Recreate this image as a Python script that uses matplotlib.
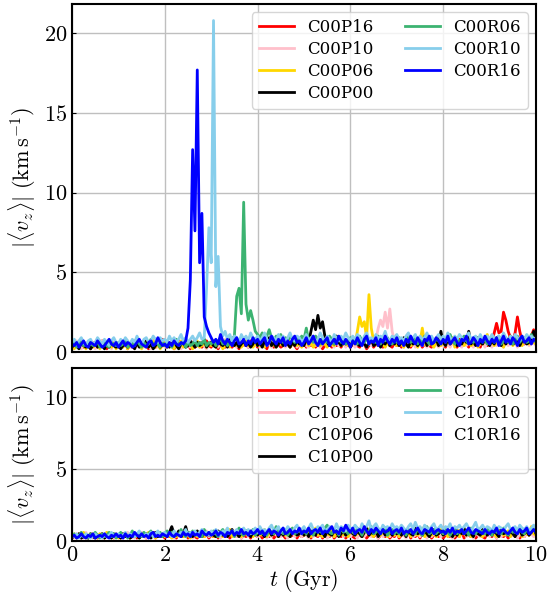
import matplotlib.pyplot as plt
import numpy as np

plt.rcParams['font.family'] = 'serif'
plt.rcParams['font.serif'] = ['cmr10']
plt.rcParams['mathtext.fontset'] = 'cm'
plt.rcParams['axes.formatter.use_mathtext'] = True

# time grid (Gyr), 0.05 step
t = np.linspace(0, 10, 201)

# ---- top panel: C00 models ----
c00p16 = [0.5, 0.3, 0.6, 0.4, 0.8, 0.3, 0.5, 0.4, 0.2, 0.6, 0.4, 0.3, 0.5, 0.7, 0.4, 0.2, 0.5, 0.3, 0.6, 0.4,
          0.3, 0.5, 0.4, 0.6, 0.2, 0.5, 0.3, 0.7, 0.4, 0.5, 0.3, 0.6, 0.4, 0.2, 0.5, 0.7, 0.3, 0.4, 0.6, 0.8,
          0.4, 0.3, 0.6, 0.5, 0.2, 0.4, 0.7, 0.3, 0.5, 0.4, 0.6, 0.2, 0.5, 0.3, 0.4, 0.6, 0.3, 0.5, 0.7, 0.4,
          0.3, 0.6, 0.4, 0.2, 0.5, 0.7, 0.3, 0.4, 0.6, 0.3, 0.5, 0.4, 0.2, 0.6, 0.4, 0.5, 0.3, 0.7, 0.4, 0.5,
          0.3, 0.6, 0.4, 0.5, 0.2, 0.7, 0.4, 0.3, 0.6, 0.5, 0.3, 0.4, 0.7, 0.5, 0.3, 0.6, 0.4, 0.2, 0.5, 0.4,
          0.6, 0.3, 0.5, 0.4, 0.7, 0.3, 0.5, 0.6, 0.2, 0.4, 0.6, 0.5, 0.3, 0.7, 0.4, 0.5, 0.3, 0.6, 0.4, 0.5,
          0.3, 0.5, 0.7, 0.4, 0.3, 0.6, 0.5, 0.2, 0.4, 0.7, 0.3, 0.5, 0.4, 0.6, 0.3, 0.5, 0.7, 0.4, 0.3, 0.6,
          0.4, 0.6, 0.3, 0.5, 0.8, 0.4, 0.3, 0.6, 0.5, 0.4, 0.7, 0.3, 0.5, 0.6, 0.4, 0.3, 0.7, 0.5, 0.4, 0.6,
          0.5, 0.3, 0.7, 0.4, 0.6, 0.5, 0.3, 0.8, 0.4, 0.6, 0.5, 0.3, 0.7, 0.4, 0.5, 0.6, 0.3, 0.8, 0.5, 0.4,
          0.6, 0.7, 1.2, 1.8, 1.2, 1.3, 2.5, 2.0, 1.3, 0.9, 0.7, 1.2, 2.2, 1.3, 0.7, 0.5, 0.8, 0.6, 1.0, 1.4,
          1.0]
c00p10 = [0.3, 0.5, 0.7, 0.4, 0.2, 0.5, 0.6, 0.3, 0.4, 0.6, 0.2, 0.5, 0.4, 0.7, 0.3, 0.5, 0.4, 0.2, 0.6, 0.4,
          0.5, 0.3, 0.6, 0.4, 0.7, 0.3, 0.5, 0.2, 0.4, 0.6, 0.5, 0.3, 0.7, 0.4, 0.2, 0.5, 0.6, 0.3, 0.4, 0.6,
          0.3, 0.5, 0.4, 0.7, 0.3, 0.5, 0.6, 0.2, 0.4, 0.6, 0.5, 0.3, 0.7, 0.4, 0.5, 0.3, 0.6, 0.4, 0.2, 0.5,
          0.7, 0.4, 0.5, 0.3, 0.6, 0.4, 0.8, 0.3, 0.5, 0.6, 0.4, 0.3, 0.7, 0.5, 0.4, 0.6, 0.3, 0.5, 0.7, 0.4,
          0.5, 0.3, 0.6, 0.8, 0.4, 0.5, 0.3, 0.7, 0.4, 0.6, 0.5, 0.8, 0.3, 0.5, 0.4, 0.6, 0.7, 0.3, 0.5, 0.4,
          0.6, 0.4, 0.3, 0.7, 0.5, 0.4, 0.6, 0.3, 0.5, 0.8, 0.4, 0.6, 0.5, 0.3, 0.7, 0.4, 0.5, 0.6, 0.3, 0.5,
          0.4, 0.6, 0.3, 0.5, 0.7, 0.4, 0.5, 0.3, 0.6, 0.4, 0.5, 0.8, 1.5, 2.0, 1.6, 2.5, 1.5, 2.7, 1.3, 0.7,
          0.5, 0.4, 0.6, 0.3, 0.7, 0.5, 0.4, 0.6, 0.3, 0.5, 0.8, 0.4, 0.6, 0.3, 0.5, 0.7, 0.4, 0.6, 0.3, 0.5,
          0.4, 0.7, 0.5, 0.3, 0.6, 0.4, 0.8, 0.5, 0.3, 0.6, 0.4, 0.7, 0.5, 0.3, 0.6, 0.4, 0.5, 0.7, 0.3, 0.6,
          0.5, 0.3, 0.7, 0.4, 0.6, 0.5, 0.3, 0.8, 0.4, 0.6, 0.5, 0.7, 0.3, 0.5, 0.4, 0.6, 0.8, 0.4, 0.5, 0.6,
          0.4]
c00p06 = [0.4, 0.2, 0.5, 0.3, 0.6, 0.4, 0.2, 0.5, 0.7, 0.3, 0.4, 0.6, 0.2, 0.5, 0.3, 0.4, 0.6, 0.3, 0.5, 0.2,
          0.4, 0.6, 0.3, 0.5, 0.2, 0.4, 0.7, 0.3, 0.5, 0.4, 0.2, 0.6, 0.3, 0.5, 0.4, 0.7, 0.3, 0.5, 0.2, 0.4,
          0.6, 0.3, 0.5, 0.4, 0.2, 0.6, 0.4, 0.7, 0.3, 0.5, 0.4, 0.6, 0.2, 0.5, 0.7, 0.3, 0.4, 0.6, 0.3, 0.5,
          0.4, 0.7, 0.3, 0.5, 0.6, 0.2, 0.4, 0.6, 0.3, 0.8, 0.5, 0.4, 0.6, 0.3, 0.5, 0.7, 0.4, 0.6, 0.3, 0.5,
          0.7, 0.4, 0.5, 0.3, 0.6, 0.8, 0.4, 0.5, 0.3, 0.7, 0.5, 0.4, 0.6, 0.9, 0.3, 0.5, 0.7, 0.4, 0.6, 0.3,
          0.5, 0.7, 0.4, 0.6, 0.3, 0.5, 0.8, 0.4, 0.6, 0.5, 0.3, 0.7, 0.5, 0.4, 0.6, 0.9, 0.4, 0.5, 0.7, 0.4,
          0.6, 0.8, 0.5, 1.3, 2.2, 1.6, 1.9, 0.9, 3.6, 1.5, 0.7, 0.5, 0.4, 0.7, 0.5, 0.3, 0.6, 0.4, 0.8, 0.5,
          0.4, 0.7, 0.5, 0.3, 0.6, 0.8, 0.4, 0.5, 0.7, 0.3, 0.6, 1.5, 0.5, 0.4, 0.7, 0.5, 0.3, 0.6, 0.8, 0.4,
          0.6, 0.4, 0.7, 0.5, 0.9, 0.3, 0.6, 0.5, 0.8, 0.4, 0.6, 0.7, 0.4, 0.5, 0.8, 0.3, 0.6, 0.5, 0.7, 1.1,
          0.5, 0.7, 0.4, 0.6, 0.8, 0.5, 0.3, 0.7, 0.6, 0.9, 0.4, 0.6, 0.5, 0.8, 0.4, 0.7, 0.6, 0.5, 0.9, 0.6,
          0.5]
c00p00 = [0.3, 0.5, 0.4, 0.2, 0.6, 0.4, 0.3, 0.5, 0.2, 0.4, 0.6, 0.3, 0.5, 0.4, 0.2, 0.5, 0.3, 0.6, 0.4, 0.3,
          0.5, 0.2, 0.4, 0.6, 0.3, 0.5, 0.4, 0.2, 0.6, 0.3, 0.5, 0.4, 0.7, 0.3, 0.5, 0.2, 0.4, 0.6, 0.3, 0.5,
          0.4, 0.6, 0.3, 0.5, 0.7, 0.4, 0.2, 0.5, 0.6, 0.3, 0.4, 0.7, 0.5, 0.3, 0.6, 0.4, 0.5, 0.8, 0.3, 0.5,
          0.6, 0.4, 0.3, 0.7, 0.5, 0.4, 0.6, 0.3, 0.8, 0.5, 0.4, 0.6, 0.3, 0.5, 0.7, 0.4, 0.6, 0.3, 0.5, 0.8,
          0.4, 0.6, 0.3, 0.7, 0.5, 0.9, 0.4, 0.6, 0.3, 0.5, 0.7, 0.4, 0.8, 0.5, 0.3, 0.6, 0.4, 0.7, 0.5, 0.6,
          0.4, 0.8, 0.6, 1.3, 2.0, 1.4, 2.3, 1.5, 1.9, 1.0, 0.6, 0.4, 0.7, 0.5, 1.0, 0.6, 0.4, 0.8, 0.5, 0.7,
          0.3, 0.6, 0.8, 0.5, 0.4, 0.7, 0.5, 0.3, 0.6, 0.8, 0.4, 0.5, 0.7, 0.3, 0.6, 0.5, 0.8, 0.4, 0.6, 0.5,
          0.7, 0.4, 0.6, 0.9, 0.5, 0.3, 0.7, 0.5, 0.8, 0.4, 0.6, 0.5, 0.9, 0.4, 0.7, 0.5, 0.6, 0.8, 0.4, 1.3,
          0.6, 0.4, 0.8, 0.5, 0.7, 0.9, 0.4, 0.6, 0.5, 0.8, 0.6, 1.3, 0.5, 0.7, 0.4, 0.9, 0.6, 0.5, 0.8, 0.6,
          0.4, 0.7, 0.5, 0.9, 0.6, 0.4, 0.8, 0.5, 0.7, 1.0, 0.5, 0.6, 0.8, 0.4, 0.7, 0.9, 0.5, 0.6, 0.8, 1.3,
          0.9]
c00r06 = [0.4, 0.6, 0.3, 0.5, 0.7, 0.4, 0.5, 0.3, 0.6, 0.4, 0.5, 0.7, 0.3, 0.5, 0.6, 0.4, 0.3, 0.6, 0.5, 0.4,
          0.6, 0.4, 0.5, 0.7, 0.3, 0.5, 0.6, 0.4, 0.7, 0.5, 0.3, 0.6, 0.4, 0.5, 0.8, 0.4, 0.6, 0.5, 0.3, 0.6,
          0.4, 0.7, 0.5, 0.3, 0.6, 0.8, 0.4, 0.5, 0.7, 0.3, 0.6, 0.4, 0.5, 0.7, 0.4, 0.6, 0.5, 0.8, 0.4, 0.6,
          0.5, 0.7, 0.4, 0.6, 0.9, 0.5, 0.7, 0.4, 0.6, 0.8, 1.0, 3.5, 4.0, 2.4, 9.4, 3.0, 2.0, 2.6, 2.0, 1.3,
          1.1, 0.9, 1.2, 0.8, 1.0, 1.4, 0.9, 0.7, 1.0, 0.8, 1.1, 0.6, 0.9, 0.7, 1.0, 0.8, 0.6, 0.9, 0.7, 1.0,
          0.8, 1.5, 0.7, 0.9, 0.6, 1.0, 0.8, 0.5, 0.9, 0.7, 0.6, 1.0, 0.8, 0.5, 0.7, 0.9, 0.6, 0.8, 0.5, 0.7,
          0.9, 0.6, 0.8, 0.5, 1.0, 0.7, 0.6, 0.9, 0.5, 0.8, 0.7, 0.6, 1.0, 0.5, 0.8, 0.7, 0.9, 0.6, 0.5, 0.8,
          0.6, 0.9, 0.7, 0.5, 0.8, 1.0, 0.6, 0.7, 0.9, 0.5, 0.8, 0.6, 1.0, 0.7, 0.5, 0.9, 0.6, 0.8, 0.7, 0.5,
          0.9, 0.6, 0.8, 1.1, 0.7, 0.5, 0.9, 0.6, 0.8, 1.0, 0.7, 0.5, 0.8, 0.6, 0.9, 0.7, 1.0, 0.6, 0.8, 0.5,
          0.7, 0.9, 0.6, 0.8, 1.0, 0.5, 0.7, 0.9, 0.6, 0.8, 0.5, 0.7, 1.0, 0.6, 0.8, 0.9, 0.6, 0.7, 1.1, 0.8,
          0.6]
c00r10 = [0.6, 0.8, 0.5, 0.7, 0.9, 0.6, 0.4, 0.7, 0.8, 0.5, 0.6, 0.9, 0.7, 0.5, 0.8, 0.6, 0.4, 0.7, 0.9, 0.6,
          0.5, 0.8, 0.6, 0.9, 0.7, 0.5, 0.8, 0.6, 1.0, 0.7, 0.5, 0.8, 0.9, 0.6, 0.7, 1.0, 0.8, 0.6, 0.9, 0.7,
          0.8, 0.6, 1.0, 0.7, 0.9, 0.6, 0.8, 1.1, 0.7, 0.9, 0.6, 0.8, 1.0, 0.7, 0.9, 1.2, 0.8, 0.9, 4.0, 7.8,
          5.6, 20.8, 4.1, 6.0, 1.6, 1.0, 1.3, 0.8, 1.1, 0.7, 1.0, 0.9, 0.6, 1.1, 0.8, 1.0, 0.7, 1.2, 0.9, 0.8,
          1.0, 0.7, 0.9, 1.2, 0.8, 0.6, 1.0, 0.9, 0.7, 1.1, 0.8, 1.0, 0.6, 0.9, 1.2, 0.8, 0.7, 1.0, 0.9, 0.6,
          0.8, 1.1, 0.7, 0.9, 1.0, 0.6, 0.8, 1.2, 0.9, 0.7, 1.0, 0.8, 0.6, 1.1, 0.9, 0.7, 1.0, 0.8, 1.2, 0.9,
          0.7, 1.0, 0.8, 1.1, 0.9, 0.6, 1.0, 1.2, 0.8, 0.9, 0.7, 1.1, 0.8, 1.0, 0.9, 1.3, 0.8, 0.7, 1.0, 0.9,
          1.1, 0.8, 0.9, 0.7, 1.0, 1.2, 0.8, 0.9, 1.1, 0.7, 1.0, 0.8, 0.9, 1.2, 0.8, 1.0, 0.7, 0.9, 1.1, 0.8,
          1.0, 0.8, 1.2, 0.9, 0.7, 1.0, 0.8, 1.1, 0.9, 0.7, 1.0, 1.2, 0.8, 0.9, 1.0, 0.7, 1.1, 0.8, 0.9, 1.0,
          0.8, 1.1, 0.9, 0.7, 1.0, 0.8, 1.2, 0.9, 0.7, 1.0, 0.8, 1.1, 0.9, 0.7, 1.0, 0.8, 1.1, 0.9, 1.0, 0.8,
          0.9]
c00r16 = [0.5, 0.4, 0.6, 0.3, 0.5, 0.7, 0.4, 0.3, 0.6, 0.5, 0.4, 0.7, 0.5, 0.3, 0.4, 0.6, 0.8, 0.5, 0.4, 0.6,
          0.3, 0.5, 0.7, 0.4, 0.6, 0.5, 0.3, 0.4, 0.6, 0.8, 0.5, 0.4, 0.3, 0.6, 0.7, 0.4, 0.5, 0.9, 0.6, 0.4,
          0.5, 0.3, 0.6, 0.4, 0.7, 0.5, 0.4, 0.6, 0.5, 0.7, 1.5, 4.5, 12.7, 7.6, 17.7, 5.6, 8.7, 2.2, 1.6, 1.2,
          0.9, 0.6, 0.8, 0.5, 1.1, 0.7, 0.5, 0.8, 0.6, 0.4, 0.7, 0.9, 0.5, 0.6, 0.8, 0.4, 0.7, 0.5, 0.9, 0.6,
          0.8, 0.5, 0.7, 0.9, 0.4, 0.6, 1.0, 0.7, 0.5, 0.8, 0.6, 0.9, 0.4, 0.7, 0.5, 0.8, 1.0, 0.6, 0.7, 0.4,
          0.6, 0.9, 0.5, 0.7, 1.0, 0.6, 0.4, 0.8, 0.5, 0.7, 0.9, 0.4, 0.6, 0.8, 0.5, 1.0, 0.7, 0.5, 0.8, 0.6,
          0.3, 0.7, 0.5, 0.9, 0.6, 0.4, 0.8, 1.0, 0.5, 0.7, 0.6, 0.9, 0.4, 0.8, 0.6, 1.0, 0.7, 0.5, 0.8, 0.6,
          0.9, 0.5, 0.7, 0.4, 0.8, 0.6, 1.0, 0.7, 0.5, 0.9, 0.6, 0.4, 0.8, 0.7, 1.0, 0.5, 0.6, 0.9, 0.7, 0.5,
          0.8, 0.6, 1.0, 0.5, 0.7, 0.9, 0.6, 0.4, 0.8, 0.7, 1.0, 0.5, 0.6, 0.9, 0.7, 0.4, 0.8, 0.6, 1.0, 0.7,
          0.5, 0.8, 0.6, 0.9, 0.4, 0.7, 1.0, 0.6, 0.8, 0.5, 0.9, 0.7, 0.4, 0.8, 1.0, 0.6, 0.7, 0.9, 0.5, 0.8,
          0.7]

# ---- bottom panel: C10 models ----
c10p16 = [0.2, 0.4, 0.3, 0.5, 0.2, 0.4, 0.3, 0.2, 0.5, 0.3, 0.4, 0.2, 0.3, 0.5, 0.2, 0.4, 0.3, 0.5, 0.2, 0.4,
          0.3, 0.2, 0.5, 0.3, 0.4, 0.2, 0.5, 0.3, 0.2, 0.4, 0.3, 0.5, 0.2, 0.4, 0.3, 0.6, 0.2, 0.4, 0.3, 0.5,
          0.2, 0.4, 0.3, 0.6, 0.3, 0.2, 0.5, 0.4, 0.3, 0.6, 0.2, 0.4, 0.5, 0.3, 0.2, 0.6, 0.4, 0.3, 0.5, 0.2,
          0.4, 0.3, 0.6, 0.2, 0.5, 0.4, 0.3, 0.6, 0.2, 0.4, 0.5, 0.3, 0.6, 0.2, 0.4, 0.3, 0.5, 0.2, 0.6, 0.4,
          0.3, 0.5, 0.2, 0.4, 0.6, 0.3, 0.5, 0.2, 0.4, 0.3, 0.6, 0.4, 0.2, 0.5, 0.3, 0.4, 0.7, 0.2, 0.5, 0.3,
          0.4, 0.6, 0.3, 0.2, 0.5, 0.4, 0.3, 0.6, 0.2, 0.5, 0.4, 0.3, 0.7, 0.2, 0.4, 0.5, 0.3, 0.6, 0.2, 0.4,
          0.5, 0.3, 0.2, 0.6, 0.4, 0.3, 0.5, 0.2, 0.4, 0.6, 0.3, 0.5, 0.2, 0.4, 0.7, 0.3, 0.5, 0.2, 0.4, 0.3,
          0.6, 0.2, 0.4, 0.5, 0.3, 0.7, 0.2, 0.4, 0.3, 0.5, 0.2, 0.6, 0.4, 0.3, 0.5, 0.2, 0.4, 0.6, 0.3, 0.5,
          0.2, 0.4, 0.6, 0.3, 0.5, 0.2, 0.4, 0.3, 0.7, 0.2, 0.5, 0.4, 0.3, 0.6, 0.2, 0.4, 0.5, 0.3, 0.2, 0.6,
          0.4, 0.3, 0.5, 0.2, 0.7, 0.4, 0.3, 0.5, 0.2, 0.4, 0.6, 0.3, 0.5, 0.2, 0.4, 0.3, 0.6, 0.4, 0.8, 1.0,
          0.6]
c10p10 = [0.4, 0.2, 0.5, 0.3, 0.4, 0.2, 0.6, 0.3, 0.5, 0.2, 0.4, 0.3, 0.5, 0.2, 0.4, 0.6, 0.3, 0.5, 0.2, 0.4,
          0.3, 0.5, 0.2, 0.4, 0.6, 0.3, 0.4, 0.2, 0.5, 0.3, 0.6, 0.4, 0.2, 0.5, 0.3, 0.4, 0.2, 0.6, 0.3, 0.4,
          0.5, 0.3, 0.4, 0.6, 0.2, 0.5, 0.3, 0.4, 0.7, 0.3, 0.5, 0.4, 0.2, 0.6, 0.4, 0.3, 0.5, 0.4, 0.7, 0.3,
          0.4, 0.6, 0.3, 0.5, 0.2, 0.4, 0.7, 0.3, 0.5, 0.4, 0.6, 0.3, 0.5, 0.2, 0.4, 0.6, 0.3, 0.7, 0.4, 0.5,
          0.3, 0.5, 0.4, 0.6, 0.2, 0.5, 0.3, 0.7, 0.4, 0.5, 0.3, 0.6, 0.4, 0.2, 0.5, 0.7, 0.3, 0.4, 0.6, 0.3,
          0.5, 0.4, 0.2, 0.6, 0.3, 0.5, 0.4, 0.7, 0.3, 0.5, 0.2, 0.4, 0.6, 0.3, 0.5, 0.4, 0.7, 0.3, 0.4, 0.6,
          0.3, 0.5, 0.4, 0.2, 0.6, 0.4, 0.3, 0.5, 0.7, 0.3, 0.4, 0.6, 0.2, 0.5, 0.3, 0.4, 0.6, 0.3, 0.5, 0.4,
          0.6, 0.3, 0.5, 0.4, 0.2, 0.5, 0.7, 0.3, 0.4, 0.6, 0.3, 0.5, 0.4, 0.2, 0.6, 0.3, 0.5, 0.4, 0.7, 0.3,
          0.4, 0.6, 0.3, 0.5, 0.2, 0.4, 0.6, 0.3, 0.5, 0.7, 0.3, 0.4, 0.5, 0.2, 0.6, 0.4, 0.3, 0.5, 0.4, 0.6,
          0.3, 0.5, 0.4, 0.2, 0.6, 0.3, 0.5, 0.4, 0.7, 0.3, 0.4, 0.6, 0.2, 0.5, 0.4, 0.3, 0.6, 0.4, 0.5, 0.3,
          0.4]
c10p06 = [0.3, 0.5, 0.2, 0.4, 0.3, 0.6, 0.2, 0.4, 0.3, 0.5, 0.4, 0.2, 0.5, 0.3, 0.4, 0.6, 0.3, 0.2, 0.4, 0.5,
          0.2, 0.4, 0.3, 0.5, 0.4, 0.2, 0.6, 0.3, 0.4, 0.2, 0.5, 0.3, 0.4, 0.6, 0.3, 0.5, 0.2, 0.4, 0.3, 0.5,
          0.3, 0.6, 0.4, 0.2, 0.5, 0.3, 0.4, 0.7, 0.3, 0.5, 0.4, 0.2, 0.6, 0.4, 0.3, 0.5, 0.7, 0.3, 0.4, 0.6,
          0.5, 0.3, 0.7, 0.4, 0.6, 0.3, 0.5, 0.4, 0.8, 0.3, 0.5, 0.6, 0.4, 0.3, 0.7, 0.5, 0.4, 0.6, 0.3, 0.5,
          0.7, 0.4, 0.5, 0.8, 0.3, 0.6, 0.4, 0.5, 0.7, 0.3, 0.6, 0.8, 0.4, 0.5, 0.3, 0.7, 0.5, 0.4, 0.6, 0.8,
          0.4, 0.5, 0.7, 0.3, 0.6, 0.9, 0.4, 0.5, 0.3, 0.7, 0.5, 0.4, 0.8, 0.3, 0.6, 0.5, 0.7, 0.4, 0.5, 0.3,
          0.6, 0.8, 0.4, 0.5, 0.7, 0.3, 0.6, 1.0, 0.4, 0.5, 0.3, 0.7, 0.5, 0.4, 0.6, 0.8, 0.3, 0.5, 0.7, 0.4,
          0.6, 0.3, 0.5, 0.8, 0.4, 0.6, 0.3, 0.7, 0.5, 0.4, 0.6, 0.9, 0.3, 0.5, 0.7, 0.4, 0.6, 0.3, 0.5, 0.8,
          0.4, 0.6, 0.3, 0.7, 0.5, 0.4, 0.8, 0.3, 0.6, 0.5, 0.4, 0.7, 0.3, 0.6, 0.5, 0.8, 0.4, 0.3, 0.6, 0.5,
          0.7, 0.4, 0.5, 0.3, 0.6, 0.8, 0.4, 0.5, 0.7, 0.3, 0.6, 0.4, 0.5, 0.9, 0.3, 0.6, 0.5, 0.4, 1.0, 0.5,
          0.4]
c10p00 = [0.2, 0.4, 0.3, 0.5, 0.2, 0.3, 0.4, 0.2, 0.5, 0.3, 0.2, 0.4, 0.3, 0.5, 0.2, 0.4, 0.3, 0.2, 0.5, 0.3,
          0.4, 0.2, 0.5, 0.3, 0.4, 0.2, 0.3, 0.5, 0.4, 0.2, 0.4, 0.3, 0.5, 0.3, 0.2, 0.4, 0.6, 0.3, 0.4, 0.3,
          0.5, 0.3, 0.6, 1.0, 0.5, 0.4, 0.7, 0.3, 0.5, 1.0, 0.4, 0.6, 0.3, 0.5, 0.7, 0.4, 0.3, 0.6, 0.5, 0.4,
          0.6, 0.4, 0.3, 0.7, 0.5, 0.4, 0.6, 0.3, 0.5, 0.8, 0.4, 0.5, 0.3, 0.6, 0.4, 0.7, 0.5, 0.3, 0.6, 0.5,
          0.4, 0.7, 0.5, 0.3, 0.6, 0.8, 0.4, 0.5, 0.7, 0.3, 0.6, 0.4, 0.8, 0.5, 0.3, 0.6, 0.7, 0.4, 0.5, 0.8,
          0.4, 0.6, 0.3, 0.7, 0.5, 0.4, 0.9, 0.5, 0.6, 0.3, 0.7, 0.5, 0.4, 0.8, 0.6, 0.3, 0.5, 0.7, 0.4, 0.6,
          0.8, 0.5, 0.4, 0.7, 0.5, 0.3, 0.6, 0.9, 0.4, 0.6, 0.5, 0.7, 0.3, 0.6, 0.8, 0.4, 0.5, 0.7, 0.4, 0.6,
          0.5, 0.8, 0.4, 0.6, 0.3, 0.7, 0.5, 0.4, 0.9, 0.5, 0.6, 0.4, 0.7, 0.5, 0.3, 0.6, 0.8, 0.4, 0.5, 0.7,
          0.4, 0.6, 0.8, 0.5, 0.3, 0.6, 0.4, 0.7, 0.5, 0.9, 0.4, 0.6, 0.5, 0.3, 0.7, 0.5, 0.4, 0.8, 0.6, 0.4,
          0.6, 0.4, 0.7, 0.5, 0.3, 0.8, 0.5, 0.6, 0.4, 0.7, 0.5, 0.3, 0.6, 0.8, 0.4, 0.5, 0.7, 0.4, 0.6, 0.9,
          0.5]
c10r06 = [0.3, 0.5, 0.2, 0.4, 0.6, 0.3, 0.4, 0.2, 0.5, 0.3, 0.6, 0.4, 0.2, 0.5, 0.3, 0.4, 0.6, 0.3, 0.5, 0.2,
          0.4, 0.6, 0.3, 0.5, 0.2, 0.4, 0.7, 0.3, 0.5, 0.4, 0.3, 0.6, 0.4, 0.5, 0.7, 0.3, 0.5, 0.4, 0.6, 0.3,
          0.5, 0.7, 0.4, 0.6, 0.3, 0.5, 0.4, 0.8, 0.5, 0.3, 0.6, 0.4, 0.7, 0.5, 0.4, 0.6, 0.3, 0.8, 0.5, 0.6,
          0.4, 0.7, 0.5, 0.3, 0.6, 0.8, 0.4, 0.6, 0.5, 0.7, 0.3, 0.6, 0.9, 0.5, 0.4, 0.7, 0.6, 0.5, 0.8, 0.4,
          0.6, 0.9, 0.5, 0.7, 0.4, 0.8, 0.6, 0.5, 1.0, 0.6, 0.7, 0.5, 0.8, 0.4, 0.7, 0.9, 0.5, 0.6, 0.8, 0.5,
          0.7, 0.5, 0.9, 0.6, 0.4, 0.8, 0.6, 0.7, 0.5, 0.9, 1.1, 0.6, 0.5, 0.8, 0.7, 0.4, 0.9, 0.6, 0.7, 0.5,
          0.8, 0.6, 0.5, 0.9, 0.7, 0.4, 0.8, 0.6, 0.7, 1.0, 0.5, 0.6, 0.8, 0.5, 0.7, 0.9, 0.4, 0.6, 0.8, 0.5,
          0.7, 0.5, 0.9, 0.6, 0.4, 0.8, 0.6, 0.7, 0.5, 0.9, 0.6, 0.4, 0.7, 1.0, 0.5, 0.6, 0.8, 0.5, 0.7, 0.6,
          0.5, 0.8, 0.6, 0.4, 0.7, 0.9, 0.5, 0.6, 0.8, 0.5, 0.7, 0.4, 0.9, 0.6, 0.5, 0.8, 0.6, 0.7, 0.5, 0.9,
          0.6, 0.4, 0.8, 0.6, 0.7, 0.5, 0.9, 0.6, 0.4, 0.8, 0.6, 0.7, 0.5, 1.0, 0.6, 0.5, 0.8, 0.6, 0.7, 0.9,
          0.6]
c10r10 = [0.4, 0.3, 0.5, 0.2, 0.4, 0.3, 0.5, 0.4, 0.2, 0.4, 0.5, 0.3, 0.4, 0.2, 0.5, 0.3, 0.4, 0.6, 0.3, 0.4,
          0.5, 0.3, 0.4, 0.6, 0.3, 0.5, 0.4, 0.3, 0.5, 0.7, 0.4, 0.3, 0.5, 0.4, 0.6, 0.3, 0.5, 0.7, 0.4, 0.5,
          0.6, 0.4, 0.5, 0.3, 0.7, 0.5, 0.4, 0.6, 0.5, 0.8, 0.4, 0.6, 0.5, 0.7, 0.4, 0.6, 0.8, 0.5, 0.6, 0.4,
          0.7, 0.5, 0.8, 0.6, 0.4, 0.7, 0.6, 0.9, 0.5, 0.7, 0.6, 0.8, 0.5, 0.7, 0.9, 0.6, 0.8, 0.5, 0.7, 0.9,
          0.6, 1.0, 0.7, 0.8, 0.6, 0.9, 1.1, 0.7, 0.8, 1.0, 0.6, 0.9, 0.7, 1.0, 0.8, 0.6, 0.9, 1.1, 0.7, 0.8,
          1.0, 0.7, 0.9, 1.2, 0.8, 0.7, 1.0, 0.9, 1.1, 0.7, 0.8, 1.0, 0.9, 0.7, 1.2, 0.8, 1.0, 0.9, 0.7, 1.1,
          0.9, 0.8, 1.1, 0.9, 0.7, 1.2, 0.9, 1.0, 1.4, 0.8, 1.0, 1.2, 0.9, 0.7, 1.1, 0.9, 1.0, 0.8, 1.2, 0.9,
          1.0, 0.8, 1.1, 0.9, 0.7, 1.0, 1.2, 0.8, 1.3, 0.9, 1.0, 0.7, 1.1, 0.9, 0.8, 1.0, 1.2, 0.8, 0.9, 1.1,
          0.8, 1.0, 0.9, 1.2, 0.7, 1.0, 0.9, 1.1, 0.8, 1.0, 1.2, 0.9, 0.7, 1.0, 1.3, 0.8, 0.9, 1.1, 0.8, 1.0,
          0.9, 0.7, 1.1, 0.8, 1.0, 0.9, 0.7, 1.0, 1.2, 0.8, 0.9, 1.0, 0.7, 1.1, 0.9, 0.8, 1.0, 0.7, 0.9, 1.1,
          0.8]
c10r16 = [0.3, 0.4, 0.2, 0.3, 0.5, 0.3, 0.2, 0.4, 0.3, 0.5, 0.2, 0.3, 0.4, 0.3, 0.5, 0.3, 0.2, 0.4, 0.3, 0.5,
          0.3, 0.4, 0.2, 0.5, 0.3, 0.4, 0.3, 0.6, 0.4, 0.3, 0.5, 0.3, 0.4, 0.2, 0.5, 0.6, 0.3, 0.4, 0.3, 0.5,
          0.4, 0.3, 0.6, 0.4, 0.3, 0.5, 0.4, 0.3, 0.6, 0.4, 0.5, 0.3, 0.6, 0.4, 0.5, 0.3, 0.7, 0.5, 0.4, 0.6,
          0.4, 0.5, 0.7, 0.4, 0.6, 0.5, 0.3, 0.6, 0.5, 0.7, 0.4, 0.6, 0.5, 0.8, 0.5, 0.6, 0.4, 0.7, 0.5, 0.6,
          0.8, 0.5, 0.7, 0.4, 0.6, 0.8, 0.5, 0.7, 0.6, 0.4, 0.7, 0.9, 0.5, 0.6, 0.8, 0.5, 0.7, 0.6, 0.9, 0.5,
          0.7, 0.6, 0.9, 0.5, 0.7, 0.8, 0.6, 0.9, 0.5, 0.7, 0.6, 0.8, 1.0, 0.6, 0.7, 0.5, 0.9, 0.7, 1.1, 0.8,
          0.6, 0.9, 0.5, 0.7, 0.8, 0.6, 1.0, 0.7, 0.5, 0.8, 0.6, 0.9, 0.7, 0.5, 0.8, 0.6, 0.7, 0.9, 0.5, 0.7,
          0.8, 0.6, 0.9, 0.5, 0.7, 0.6, 0.8, 0.5, 0.7, 0.9, 0.6, 0.5, 0.8, 0.7, 0.6, 0.9, 0.5, 0.7, 0.8, 0.6,
          0.7, 0.5, 0.8, 0.6, 0.9, 0.5, 0.7, 0.6, 0.8, 0.5, 0.7, 0.9, 0.6, 0.5, 0.8, 0.7, 0.6, 0.5, 0.8, 0.6,
          0.5, 0.7, 0.6, 0.9, 0.5, 0.7, 0.8, 0.6, 0.5, 0.7, 0.9, 0.6, 0.5, 0.8, 0.6, 0.7, 0.9, 0.5, 0.6, 0.8,
          0.6]

colors = ['red', 'pink', 'gold', 'black', 'mediumseagreen', 'skyblue', 'blue']
top_names = ['C00P16', 'C00P10', 'C00P06', 'C00P00', 'C00R06', 'C00R10', 'C00R16']
top_series = [c00p16, c00p10, c00p06, c00p00, c00r06, c00r10, c00r16]
bot_names = ['C10P16', 'C10P10', 'C10P06', 'C10P00', 'C10R06', 'C10R10', 'C10R16']
bot_series = [c10p16, c10p10, c10p06, c10p00, c10r06, c10r10, c10r16]

fig = plt.figure(figsize=(5.56, 5.93), dpi=100)
ax1 = fig.add_axes([0.1295, 0.4064, 0.8345, 0.5869])
ax2 = fig.add_axes([0.1295, 0.0877, 0.8345, 0.2917], sharex=ax1)

for ax, names, series in [(ax1, top_names, top_series), (ax2, bot_names, bot_series)]:
    for name, vals, c in zip(names, series, colors):
        ax.plot(t, vals, color=c, lw=2, label=name)
    ax.grid(True, color='0.75', lw=1.0)
    ax.set_axisbelow(True)
    ax.tick_params(direction='in', labelsize=16, length=3)
    for sp in ax.spines.values():
        sp.set_linewidth(1.5)
    ax.legend(ncol=2, loc='upper right', handlelength=2.1, labelspacing=0.3,
              columnspacing=1.9, borderaxespad=0.5,
              prop={'family': 'DejaVu Serif', 'size': 12})
    ax.set_ylabel(r'$|\langle v_z\rangle|\ (\mathrm{km\,s^{-1}})$', fontsize=16)

ax1.set_xlim(0, 10)
ax1.set_ylim(0, 21.84)
ax1.set_yticks([0, 5, 10, 15, 20])
ax1.tick_params(labelbottom=False)
ax2.set_ylim(0, 12)
ax2.set_yticks([0, 5, 10])
ax2.set_xticks([0, 2, 4, 6, 8, 10])
ax2.set_xlabel(r'$t\ (\mathrm{Gyr})$', fontsize=16, labelpad=1)

fig.savefig('out.png', dpi=100)
